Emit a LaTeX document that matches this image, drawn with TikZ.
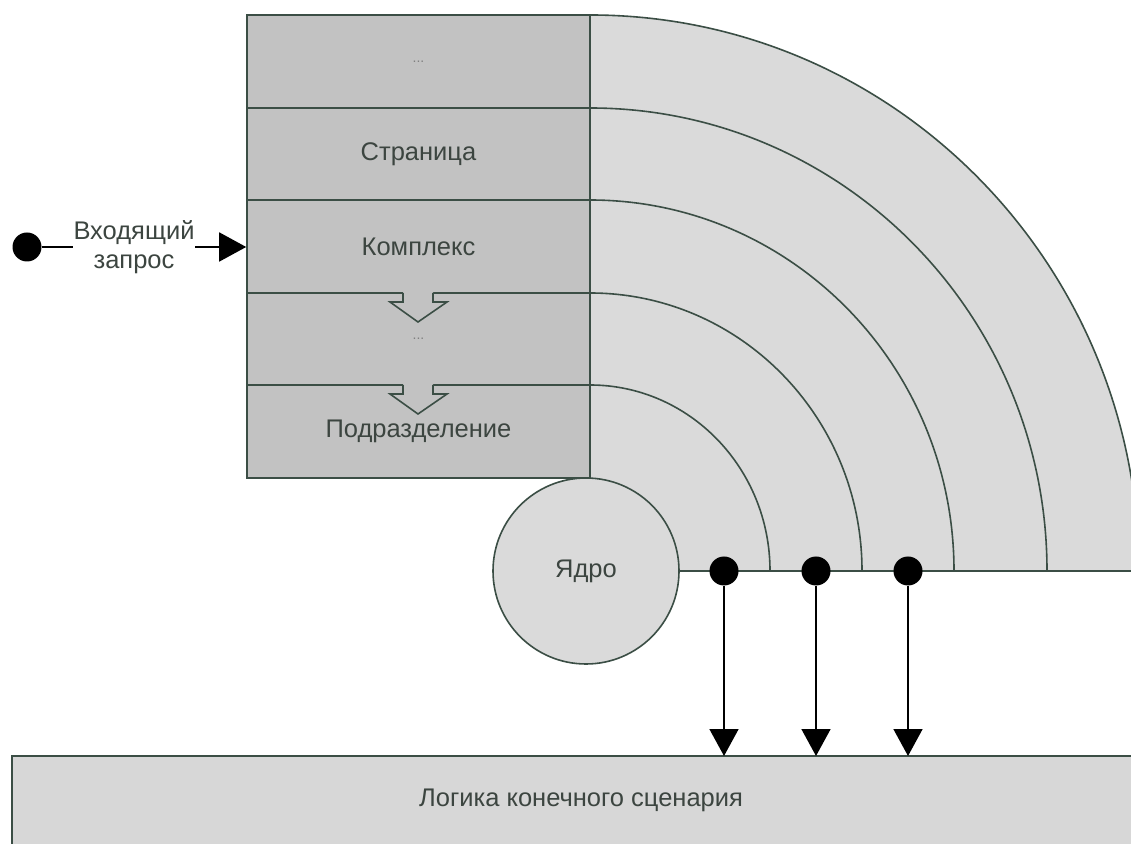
\documentclass[tikz,border=0pt]{standalone}
\usepackage{fontspec}
\setmainfont{Liberation Sans}
\usetikzlibrary{arrows.meta}
\definecolor{edgec}{HTML}{3B4E45}
\definecolor{blockc}{HTML}{C2C2C2}
\definecolor{ringc}{HTML}{DADADA}
\definecolor{boxc}{HTML}{D7D7D7}
\definecolor{txtc}{HTML}{3C4540}
\begin{document}
\begin{tikzpicture}[x=1pt,y=1pt,
  edgeline/.style={draw=edgec,line width=1.6pt},
  rowbox/.style={edgeline,fill=blockc,minimum width=343pt,minimum height=92.5pt,inner sep=0pt,
    text=txtc,font=\fontsize{25.5}{29}\selectfont},
  dotn/.style={circle,fill=black,minimum size=29pt,inner sep=0pt},
  arr/.style={draw=black,line width=1.6pt,-{Triangle[length=27pt,width=29pt]}},
  lbl/.style={text=txtc,font=\fontsize{25.5}{29}\selectfont}]
\clip (0,0) rectangle (1131,843);
\fill[white] (0,0) rectangle (1131,843);
% ring area
\fill[ringc] (590,272) -- (590,828) arc[start angle=90,end angle=0,x radius=549pt,y radius=556pt] -- cycle;
\foreach \ry/\rx in {186/180,278/272,371/364,463/457,556/549}
  \draw[edgeline] (590,{272+\ry}) arc[start angle=90,end angle=0,x radius=\rx pt,y radius=\ry pt];
% rows
\node[rowbox] (r1) at (418.5,781.5) {\textcolor{gray}{\fontsize{14}{16}\selectfont ...}};
\node[rowbox] (r2) at (418.5,689) {Страница};
\node[rowbox] (r3) at (418.5,596.5) {Комплекс};
\node[rowbox] (r4) at (418.5,504) {\textcolor{gray}{\fontsize{14}{16}\selectfont ...}};
\node[rowbox] (r5) at (418.5,411.5) {Подразделение};
% hollow arrows
\foreach \t in {550,458}{
  \fill[blockc] (403,{\t+2}) -- (403,{\t-9}) -- (390,{\t-9}) -- (418,{\t-29}) -- (447,{\t-9}) -- (433,{\t-9}) -- (433,{\t+2}) -- cycle;
  \draw[edgeline,line join=miter] (403,\t) -- (403,{\t-9}) -- (390,{\t-9}) -- (418,{\t-29}) -- (447,{\t-9}) -- (433,{\t-9}) -- (433,\t);
}
% core
\node[edgeline,circle,fill=ringc,minimum size=186pt,inner sep=0pt,lbl] (core) at (586,272) {Ядро};
\draw[edgeline] (core.east) -- (1135,272);
% bottom box
\draw[edgeline,fill=boxc] (12,87) rectangle (1160,-20);
\coordinate (boxtop) at (12,87);
\node[lbl] (logic) at (581,43) {Логика конечного сценария};
% dots and arrows
\node[dotn] (d1) at (724,272) {};
\node[dotn] (d2) at (816,272) {};
\node[dotn] (d3) at (908,272) {};
\draw[arr] (d1) -- (d1 |- boxtop);
\draw[arr] (d2) -- (d2 |- boxtop);
\draw[arr] (d3) -- (d3 |- boxtop);
% input
\node[dotn] (in) at (27,596) {};
\draw[arr] (in) -- (in -| r3.west);
\node[lbl,fill=white,inner sep=1pt,align=center] (inlab) at (134,596) {Входящий\\запрос};
\end{tikzpicture}
\end{document}
